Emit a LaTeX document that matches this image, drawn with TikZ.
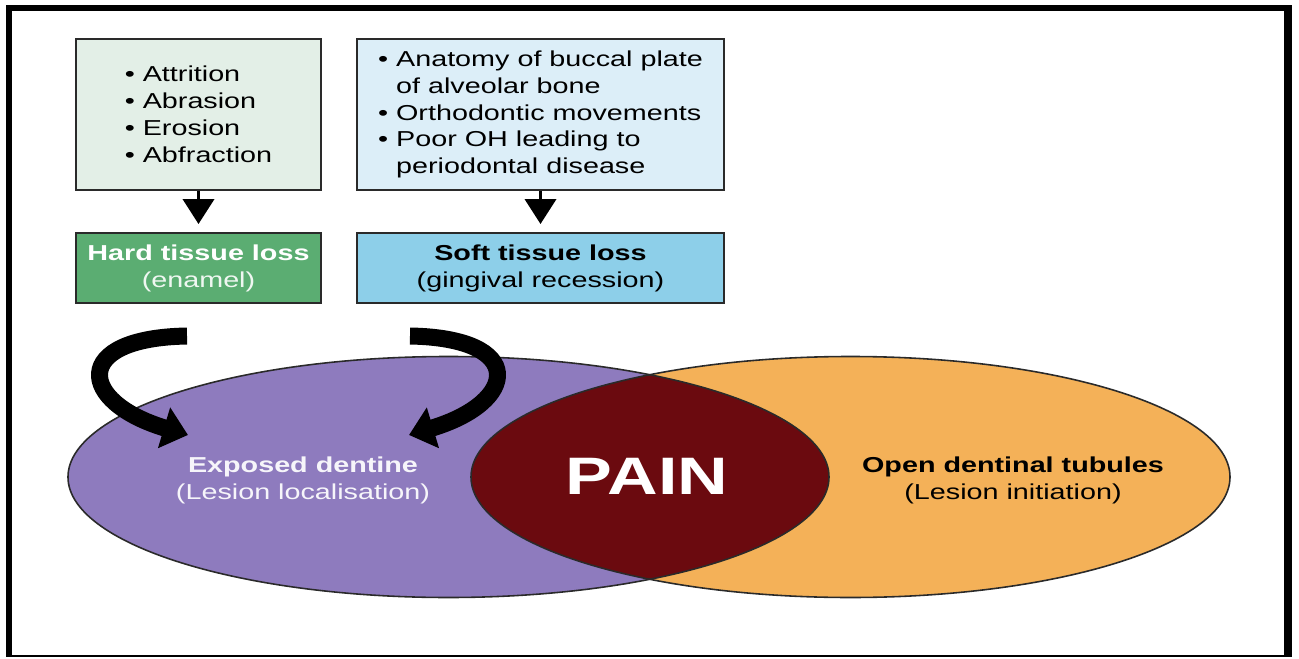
\documentclass[tikz,border=0pt]{standalone}
\usepackage{fontspec}
\setmainfont[FakeStretch=1.33]{Liberation Sans}
\usetikzlibrary{arrows.meta}
\definecolor{mMint}{HTML}{E3EFE7}
\definecolor{mIce}{HTML}{DCEEF8}
\definecolor{mGreen}{HTML}{5BAD72}
\definecolor{mSky}{HTML}{8DCFE9}
\definecolor{mPurple}{HTML}{8E7BBE}
\definecolor{mOrange}{HTML}{F4B158}
\definecolor{mWine}{HTML}{6B0A0F}
\definecolor{mEdge}{HTML}{2A2A2A}

\begin{document}
\begin{tikzpicture}[x=0.02cm, y=-0.02cm,
      box/.style={draw=mEdge, line width=1.1pt, inner sep=0pt,
        font=\fontsize{12.3}{15.3}\selectfont},
      downarrow/.style={line width=2.2pt, -{Triangle[length=0.5cm, width=0.62cm]},
        shorten >=0.16cm},
      bendarrow/.style={line width=0.34cm, -{Triangle[length=0.5cm, width=0.82cm]}},
      venn/.style={draw=mEdge, line width=0.9pt},
      label/.style={align=center, font=\fontsize{12.3}{15.3}\selectfont}]
    \useasboundingbox (0,0) rectangle (1299,659);
    \fill[white] (0,0) rectangle (1299,659);
    % frame
    \draw[line width=0.12cm] (6,8) -- (1291,8);
    \draw[line width=0.12cm] (9,5) -- (9,657);
    \draw[line width=0.16cm] (1288,5) -- (1288,657);
    \draw[line width=0.04cm] (6,656) -- (1292,656);

    % causes and losses
    \node[box, fill=mMint, minimum width=4.9cm, minimum height=3.02cm, align=left]
      (hardcause) at (198.5,114.5)
      {\textbullet\ Attrition\\ \textbullet\ Abrasion\\ \textbullet\ Erosion\\ \textbullet\ Abfraction};
    \node[box, fill=mIce, minimum width=7.34cm, minimum height=3.02cm, align=left]
      (softcause) at (540.5,114.5)
      {\textbullet\ Anatomy of buccal plate\\ \hphantom{\textbullet\ }of alveolar bone\\
       \textbullet\ Orthodontic movements\\ \textbullet\ Poor OH leading to\\
       \hphantom{\textbullet\ }periodontal disease};
    \node[box, fill=mGreen, minimum width=4.9cm, minimum height=1.4cm, align=center]
      (hardloss) at (198.5,268)
      {\textcolor{white}{\bfseries Hard tissue loss}\\ \textcolor{white!90!mGreen}{(enamel)}};
    \node[box, fill=mSky, minimum width=7.34cm, minimum height=1.4cm, align=center]
      (softloss) at (540.5,268)
      {\textbf{Soft tissue loss}\\ (gingival recession)};
    \foreach \a/\b in {hardcause/hardloss, softcause/softloss}
      \draw[downarrow] (\a) -- (\b);

    % venn
    \coordinate (dentc) at (448.5,477);
    \coordinate (tubc) at (850.5,477);
    \fill[mPurple] (dentc) ellipse (380.5 and 120.5);
    \fill[mOrange] (tubc) ellipse (379.5 and 120.5);
    \begin{scope}
      \clip (dentc) ellipse (380.5 and 120.5);
      \fill[mWine] (tubc) ellipse (379.5 and 120.5);
    \end{scope}
    \draw[venn] (dentc) ellipse (380.5 and 120.5);
    \draw[venn] (tubc) ellipse (379.5 and 120.5);

    \node[label, text=white!92!mPurple] (dentine) at (303,480)
      {\textbf{Exposed dentine}\\ (Lesion localisation)};
    \node[label] (tubules) at (1013,480)
      {\textbf{Open dentinal tubules}\\ (Lesion initiation)};
    \node[text=white, font=\fontsize{30}{32}\selectfont\bfseries] (pain) at (647,476) {PAIN};

    % bent arrows
    \coordinate (ltail) at (187,336);
    \coordinate (lhead) at (188,435);
    \coordinate (rtail) at (410,336);
    \coordinate (rhead) at (409,435);
    \draw[bendarrow] (ltail) .. controls (70,338) and (78,402) .. (lhead);
    \draw[bendarrow] (rtail) .. controls (527,338) and (519,402) .. (rhead);
  \end{tikzpicture}
\end{document}
